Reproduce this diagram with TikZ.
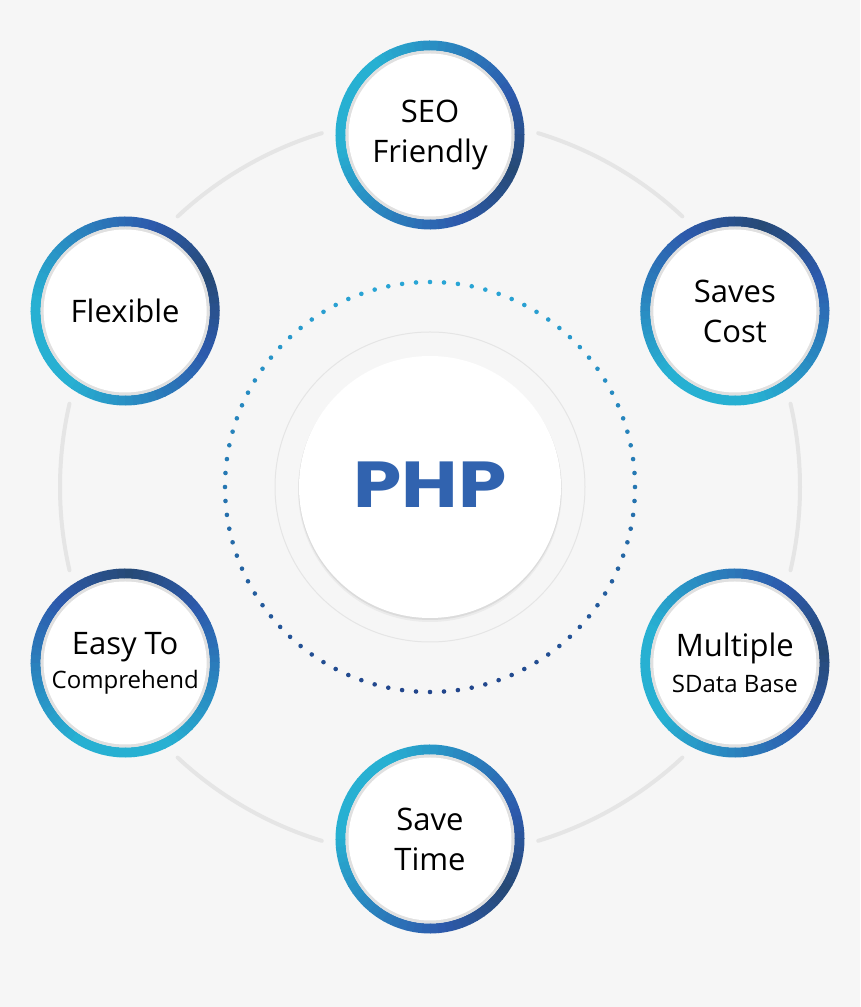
\documentclass[tikz,border=0pt]{standalone}
\usepackage{fontspec}
\setmainfont{Open Sans}
\newfontfamily\phpfont{Poppins}
\usepackage{tikz}
\usetikzlibrary{calc}

\definecolor{bg}{HTML}{F6F6F6}
\definecolor{arcgray}{HTML}{E5E5E5}
\definecolor{ringcyan}{HTML}{27B0D2}
\definecolor{ringblue}{HTML}{2D5AAC}
\definecolor{ringdark}{HTML}{264A76}
\definecolor{dotcyan}{HTML}{29A6D6}
\definecolor{dotdark}{HTML}{22468C}
\definecolor{phpblue}{HTML}{3163AF}

\tikzset{
    linkarc/.style={draw=arcgray, line width=4pt, line cap=round},
    feature/.style={align=center, text=black, font=\fontsize{31}{40}\selectfont},
    phptext/.style={text=phpblue, font=\phpfont\bfseries\fontsize{65}{65}\selectfont}
}
\newcommand{\smalltxt}{\fontsize{24}{30}\selectfont}

\begin{document}
\begin{tikzpicture}[x=1pt,y=1pt]
            \fill[bg] (0,0) rectangle (860,1007);
            \coordinate (c) at (430,520);

            \foreach \a in {30,90,...,330}{
                \draw[linkarc] ($(c)+(\a+17:370)$) arc[start angle=\a+17, end angle=\a+43, radius=370];
            }

            \foreach \i in {0,...,91}{
                \pgfmathsetmacro{\ang}{\i/92*360}
                \pgfmathtruncatemacro{\m}{50+50*sin(\ang)}
                \fill[dotcyan!\m!dotdark] ($(c)+(\ang:205)$) circle (2.3);
            }

            \begin{scope}
                \draw[arcgray, line width=1pt, fill=bg] (c) circle (155);
                \fill[black!8] ($(c)+(0,-3)$) circle (132);
                \fill[black!14] ($(c)+(0,-1.5)$) circle (131.5);
                \fill[white] (c) circle (131);
                \node[phptext] (php) at ($(c)+(0,2)$) {\scalebox{1.19}[1]{PHP}};
            \end{scope}

            \foreach \a/\n/\d in {90/seo/-25, 30/saves/70, -30/multi/5, -90/time/-35, 210/easy/85, 150/flex/20}{
                \coordinate (\n) at ($(c)+(\a:352)$);
                \foreach \k in {0,...,71}{
                    \pgfmathsetmacro{\phi}{\k*5}
                    \pgfmathsetmacro{\dd}{abs(mod(\phi-\d+540,360)-180)}
                    \pgfmathtruncatemacro{\p}{\dd<50 ? 100-\dd*2 : (\dd<150 ? 100-(\dd-50) : 0)}
                    \ifdim\dd pt<50pt
                        \colorlet{seg}{ringdark!\p!ringblue}
                    \else
                        \colorlet{seg}{ringblue!\p!ringcyan}
                    \fi
                    \draw[seg, line width=10pt] ($(\n)+(\phi:89.5)$) arc[start angle=\phi, end angle=\phi+5.6, radius=89.5];
                }
                \fill[black!12] (\n) circle (84.5);
                \fill[white] (\n) circle (81.5);
            }

            \node[feature] (seo-text) at (seo) {SEO\\Friendly};
            \node[feature] (saves-text) at (saves) {Saves\\Cost};
            \node[feature] (multi-text) at (multi) {Multiple\\[-4pt]\smalltxt SData Base};
            \node[feature] (time-text) at (time) {Save\\Time};
            \node[feature] (easy-text) at (easy) {Easy To\\[-6pt]\smalltxt Comprehend};
            \node[feature] (flex-text) at (flex) {Flexible};
        \end{tikzpicture}
\end{document}
